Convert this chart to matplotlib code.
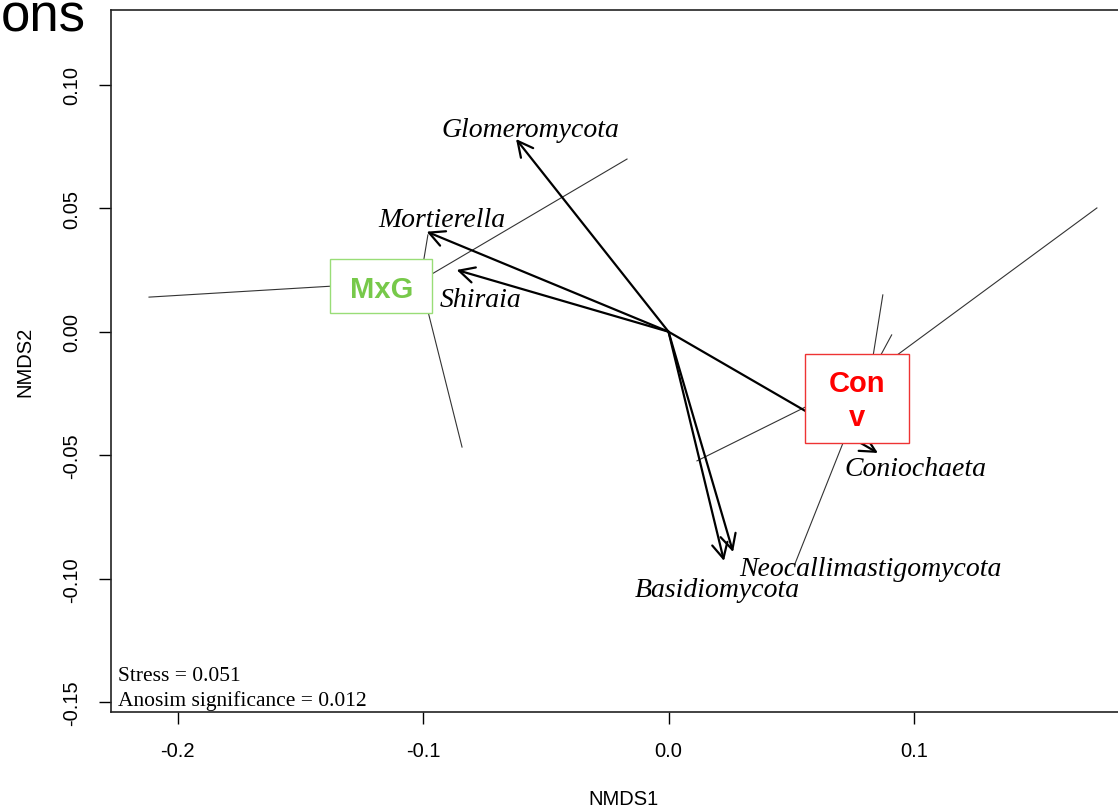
import matplotlib
matplotlib.use("Agg")
import matplotlib.pyplot as plt
from matplotlib.patches import FancyArrowPatch

# ---- data ----
species = ["Glomeromycota", "Mortierella", "Shiraia", "Coniochaeta",
           "Basidiomycota", "Neocallimastigomycota"]
arrow_x = [-0.0621, -0.0985, -0.0863, 0.0853, 0.0226, 0.0263]
arrow_y = [0.0780, 0.0405, 0.0250, -0.0491, -0.0928, -0.0892]
label_x = [-0.0564, -0.0923, -0.0764, 0.1004, 0.0198, 0.0821]
label_y = [0.0820, 0.0456, 0.0132, -0.0553, -0.1042, -0.0957]

groups = ["MxG", "Conv"]
group_text = ["MxG", "Con\nv"]
center_x = [-0.1011, 0.0821]
center_y = [0.0206, -0.0175]
mxg_site_x = [-0.2116, -0.0169, -0.0841, -0.0980]
mxg_site_y = [0.0140, 0.0699, -0.0467, 0.0392]
conv_site_x = [0.1745, 0.0873, 0.0909, 0.0116, 0.0515]
conv_site_y = [0.0501, 0.0149, -0.0013, -0.0523, -0.0940]
site_x = [mxg_site_x, conv_site_x]
site_y = [mxg_site_y, conv_site_y]

box_text_x = [-0.1170, 0.0768]
box_text_y = [0.0172, -0.0277]
box_x0 = [-0.1379, 0.0557]
box_x1 = [-0.0963, 0.0980]
box_y0 = [0.0076, -0.0451]
box_y1 = [0.0294, -0.0090]
text_colors = ["#77c94a", "#ff0000"]
edge_colors = ["#99dd77", "#ee3333"]

xticks = [-0.2, -0.1, 0.0, 0.1]
xtick_labels = ["-0.2", "-0.1", "0.0", "0.1"]
yticks = [-0.15, -0.10, -0.05, 0.00, 0.05, 0.10]
ytick_labels = ["-0.15", "-0.10", "-0.05", "0.00", "0.05", "0.10"]

stress_text = "Stress = 0.051\nAnosim significance = 0.012"

# ---- figure ----
W, H = 1118, 812
fig = plt.figure(figsize=(W / 100, H / 100), dpi=100)
left_px, right_px, top_px, bottom_px = 111, 1135, 11, 713.3
ax = fig.add_axes([left_px / W, 1 - bottom_px / H,
                   (right_px - left_px) / W, (bottom_px - top_px) / H])
x0_px, sx = 668.5, 2455.0
y0_px, sy = 332.7, 2470.0
ax.set_xlim((left_px - x0_px) / sx, (right_px - x0_px) / sx)
ax.set_ylim((y0_px - bottom_px) / sy, (y0_px - top_px) / sy)

sans = ["Liberation Sans", "DejaVu Sans"]
serif = ["Liberation Serif", "DejaVu Serif"]

# spider lines
for g in range(len(groups)):
    for sxp, syp in zip(site_x[g], site_y[g]):
        ax.plot([center_x[g], sxp], [center_y[g], syp], color="#333333",
                lw=0.8, zorder=1)

# arrows
for i, name in enumerate(species):
    arr = FancyArrowPatch((0, 0), (arrow_x[i], arrow_y[i]),
                          arrowstyle="->,head_length=0.55,head_width=0.28",
                          mutation_scale=20, lw=1.6, color="black",
                          shrinkA=0, shrinkB=0, zorder=2)
    ax.add_patch(arr)
    ax.text(label_x[i], label_y[i], name, ha="center", va="center",
            fontsize=20, style="italic", family=serif, zorder=3)

# group labels (boxes)
for g in range(len(groups)):
    rect = plt.Rectangle((box_x0[g], box_y0[g]), box_x1[g] - box_x0[g],
                         box_y1[g] - box_y0[g], facecolor="white",
                         edgecolor=edge_colors[g], lw=1.0, zorder=4)
    ax.add_patch(rect)
    ax.text(box_text_x[g], box_text_y[g], group_text[g], ha="center",
            va="center", fontsize=21, fontweight="bold", color=text_colors[g],
            family=sans, linespacing=1.3, zorder=5)

# stress / anosim text
ax.text((118 - left_px) / (right_px - left_px), 1 - (705.7 - top_px) / (bottom_px - top_px),
        stress_text, transform=ax.transAxes, ha="left", va="baseline",
        fontsize=15.5, family=serif, linespacing=1.32)

# axes styling
ax.set_xticks(xticks)
ax.set_xticklabels(xtick_labels)
ax.set_yticks(yticks)
ax.set_yticklabels(ytick_labels)
ax.tick_params(direction="out", length=8.5, width=1.0, pad=12, labelsize=14.5)
ax.tick_params(axis="y", pad=13)
for lab in ax.get_xticklabels() + ax.get_yticklabels():
    lab.set_family(sans)
ax.tick_params(axis="y", labelrotation=90)
for lab in ax.get_yticklabels():
    lab.set_va("center")
for sp in ax.spines.values():
    sp.set_linewidth(1.2)
    sp.set_color("#222222")

fig.text(623 / W, 1 - 800 / H, "NMDS1", ha="center", va="center",
         fontsize=14.5, family=sans)
fig.text(25 / W, 1 - 362 / H, "NMDS2", ha="center", va="center",
         rotation=90, fontsize=14.5, family=sans)

# cropped title fragment
fig.text(86 / W, 1 - 32 / H, "ons", ha="right", va="baseline",
         fontsize=38, family=sans)

fig.savefig("out.png", dpi=100)
